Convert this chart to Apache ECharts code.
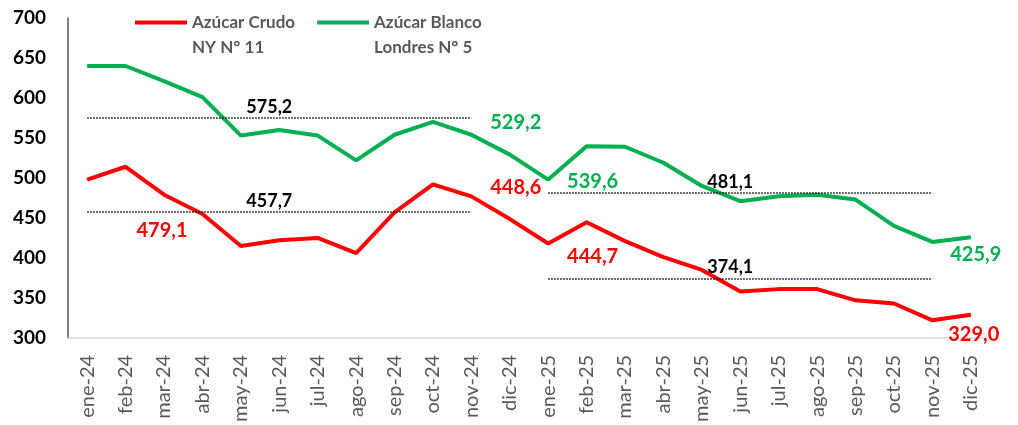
<!DOCTYPE html>
<html>
<head>
<meta charset="utf-8">
<script src="https://cdn.jsdelivr.net/npm/echarts@6/dist/echarts.min.js"></script>
<style>html,body{margin:0;padding:0;background:#fff}#c{width:1018px;height:425px}</style>
</head>
<body>
<div id="c"></div>
<script>
var categories = ['ene-24','feb-24','mar-24','abr-24','may-24','jun-24','jul-24','ago-24','sep-24','oct-24','nov-24','dic-24',
                  'ene-25','feb-25','mar-25','abr-25','may-25','jun-25','jul-25','ago-25','sep-25','oct-25','nov-25','dic-25'];
var crudo  = [498, 514, 479.1, 455, 415, 422, 425, 406, 457, 492, 477, 448.6,
              418, 444.7, 421, 401, 385, 358, 361, 361, 347, 343, 322, 329.0];
var blanco = [640, 640, 621, 601, 553, 560, 553, 522, 554, 570, 554, 529.2,
              498, 539.6, 539, 519, 490, 471, 477, 479, 473, 440, 420, 425.9];
var crudoMeans  = [457.7, 374.1];
var blancoMeans = [575.2, 481.1];
var yTicks = {min: 300, max: 700, interval: 50};
var seriesNames = ['Azúcar Crudo\nNY N° 11', 'Azúcar Blanco\nLondres N° 5'];

function fmt(v){ return v.toFixed(1).replace('.', ','); }
var FONT = 'Lato';

// label placements for highlighted points: index -> [position, distance, dx]
var crudoLabels  = {2: ['bottom', 25, -2], 11: ['top', 21, 6], 13: ['bottom', 24, 6], 23: ['bottom', 9, 3]};
var blancoLabels = {11: ['top', 22, 6], 13: ['bottom', 25, 6], 23: ['bottom', 7, 5]};

function buildData(vals, labels, color){
  return vals.map(function(v, i){
    var item = {value: v};
    if (labels[i]) {
      item.label = {show: true, position: labels[i][0], distance: labels[i][1], offset: [labels[i][2], 0],
        formatter: function(p){ return fmt(p.value); },
        color: color, fontFamily: FONT, fontWeight: 'bold', fontSize: 20};
    }
    return item;
  });
}
function meanLines(means){
  var ranges = [[0, 10], [12, 22]];
  return means.map(function(m, k){
    return [{coord: [ranges[k][0], m], value: m}, {coord: [ranges[k][1], m]}];
  });
}
var markLineStyle = {
  symbol: ['none', 'none'], silent: true,
  lineStyle: {type: 'dotted', color: '#000', width: 1.5},
  label: {show: true, position: 'insideMiddleTop', distance: 2, offset: [-10, 0], color: '#000', fontFamily: FONT, fontWeight: 'bold', fontSize: 18,
    formatter: function(p){ return fmt(p.value); }}
};

var chart = echarts.init(document.getElementById('c'));
chart.setOption({
  animation: false,
  backgroundColor: '#fff',
  grid: {left: 68, right: 28, top: 18, bottom: 86},
  legend: {
    left: 130, top: -20, itemWidth: 52, itemHeight: 4, itemGap: 22,
    icon: 'rect',
    data: [
      {name: seriesNames[0], itemStyle: {color: '#FF0000'}},
      {name: seriesNames[1], itemStyle: {color: '#00B050'}}
    ],
    formatter: function(n){ return '\n' + n; },
    textStyle: {color: '#595959', fontFamily: FONT, fontWeight: 'bold', fontSize: 17, lineHeight: 25}
  },
  xAxis: {
    type: 'category', data: categories, boundaryGap: true,
    axisLine: {show: true, lineStyle: {color: '#d9d9d9', width: 1.5}},
    axisTick: {show: false},
    axisLabel: {rotate: 90, color: '#595959', fontFamily: FONT, fontSize: 20, margin: 17, interval: 0}
  },
  yAxis: {
    type: 'value', min: yTicks.min, max: yTicks.max, interval: yTicks.interval,
    axisLine: {show: true, lineStyle: {color: '#595959', width: 1.5}},
    axisTick: {show: false},
    splitLine: {show: false},
    axisLabel: {color: '#000', fontFamily: FONT, fontWeight: 'bold', fontSize: 19, margin: 22}
  },
  series: [
    {
      name: seriesNames[0], type: 'line', data: buildData(crudo, crudoLabels, '#FF0000'),
      symbol: 'circle', symbolSize: 1, showSymbol: true,
      itemStyle: {color: '#FF0000'}, lineStyle: {color: '#FF0000', width: 4},
      markLine: Object.assign({data: meanLines(crudoMeans)}, markLineStyle), z: 3
    },
    {
      name: seriesNames[1], type: 'line', data: buildData(blanco, blancoLabels, '#00B050'),
      symbol: 'circle', symbolSize: 1, showSymbol: true,
      itemStyle: {color: '#00B050'}, lineStyle: {color: '#00B050', width: 4},
      markLine: Object.assign({data: meanLines(blancoMeans)}, markLineStyle), z: 3
    }
  ]
});
</script>
</body>
</html>
